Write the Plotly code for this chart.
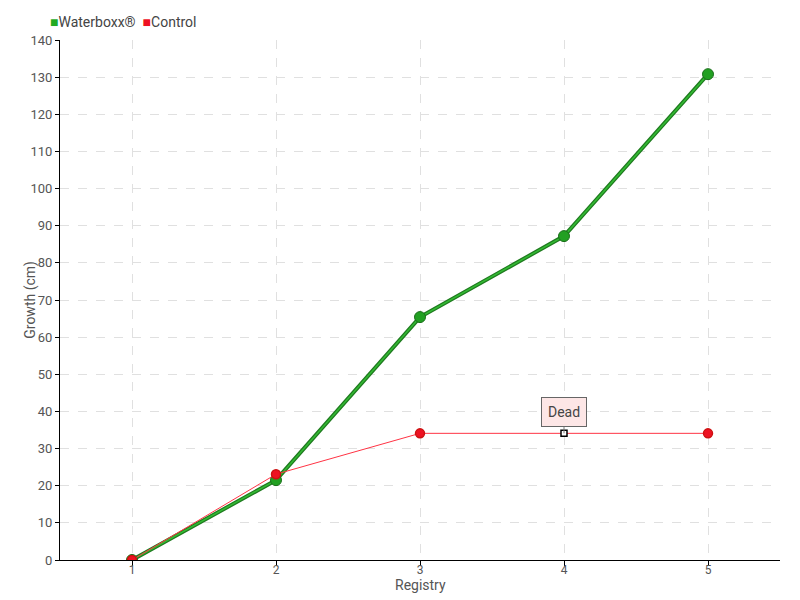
import plotly.graph_objects as go

registry = [1, 2, 3, 4, 5]
waterboxx = [0, 21.5, 65.4, 87.2, 130.8]
control = [0, 23.1, 34.1, 34.1, 34.1]
dead_index = 3
y_ticks = list(range(0, 141, 10))

FONT = "Roboto, Liberation Sans, sans-serif"

fig = go.Figure()

fig.add_trace(go.Scatter(x=registry, y=waterboxx, mode="lines", showlegend=False,
                         line=dict(color="#1f7a1f", width=4), hoverinfo="skip"))
fig.add_trace(go.Scatter(x=registry, y=waterboxx, mode="lines+markers", showlegend=False,
                         name="Waterboxx®",
                         line=dict(color="#33bb33", width=1.5),
                         marker=dict(size=11, color="#22a022", line=dict(color="#1a6e1a", width=1))))

ctrl_sym = ["circle"] * len(control)
ctrl_sym[dead_index] = "square"
ctrl_col = ["#ee1122"] * len(control)
ctrl_col[dead_index] = "#ffffff"
ctrl_size = [9] * len(control)
ctrl_size[dead_index] = 6
ctrl_lc = ["#cc1111"] * len(control)
ctrl_lc[dead_index] = "#000000"
fig.add_trace(go.Scatter(x=registry, y=control, mode="lines+markers", showlegend=False,
                         name="Control",
                         line=dict(color="#ff3344", width=1),
                         marker=dict(size=ctrl_size, color=ctrl_col, symbol=ctrl_sym, opacity=1,
                                     line=dict(color=ctrl_lc, width=1.5))))

fig.add_annotation(x=registry[dead_index], y=control[dead_index], text="Dead",
                   showarrow=True, arrowhead=0, arrowwidth=1, arrowcolor="#777777",
                   ax=0, ay=-21, bgcolor="#fde6e6", bordercolor="#666666", borderwidth=1,
                   borderpad=6, font=dict(family=FONT, size=14, color="#444444"))

# legend drawn as text
fig.add_annotation(xref="paper", yref="paper", x=-0.016, y=1.035, xanchor="left", yanchor="middle",
                   showarrow=False,
                   text="<span style='color:#22aa22'>■</span>Waterboxx®  <span style='color:#ee1122'>■</span>Control",
                   font=dict(family=FONT, size=14, color="#444444"))

# axis titles
fig.add_annotation(xref="paper", yref="paper", x=0.5, y=-0.048, xanchor="center", yanchor="middle",
                   showarrow=False, text="Registry", font=dict(family=FONT, size=14, color="#555555"))
fig.add_annotation(xref="paper", yref="paper", x=-0.042, y=0.5, xanchor="center", yanchor="middle",
                   showarrow=False, text="Growth (cm)", textangle=-90,
                   font=dict(family=FONT, size=14, color="#555555"))

fig.update_layout(
    width=800, height=600,
    margin=dict(l=52, r=28, t=32, b=48, autoexpand=False),
    plot_bgcolor="white", paper_bgcolor="white",
    font=dict(family=FONT, size=13, color="#555555"),
    showlegend=False,
    xaxis=dict(range=[0.5, 5.5], tickvals=registry, ticktext=[str(r) for r in registry],
               showline=True, linecolor="black", linewidth=1, ticks="outside",
               ticklen=5, tickcolor="black", showgrid=True, gridcolor="#e0e0e0",
               griddash="dash", zeroline=False, ticklabelstandoff=-6,
               tickfont=dict(size=12)),
    yaxis=dict(range=[0, 140], tickvals=y_ticks, showline=True, linecolor="black",
               linewidth=1, ticks="outside", ticklen=4, tickcolor="black",
               showgrid=True, gridcolor="#e0e0e0", griddash="dash", zeroline=False,
               tickfont=dict(size=13)),
)

fig.write_html("out.html")
